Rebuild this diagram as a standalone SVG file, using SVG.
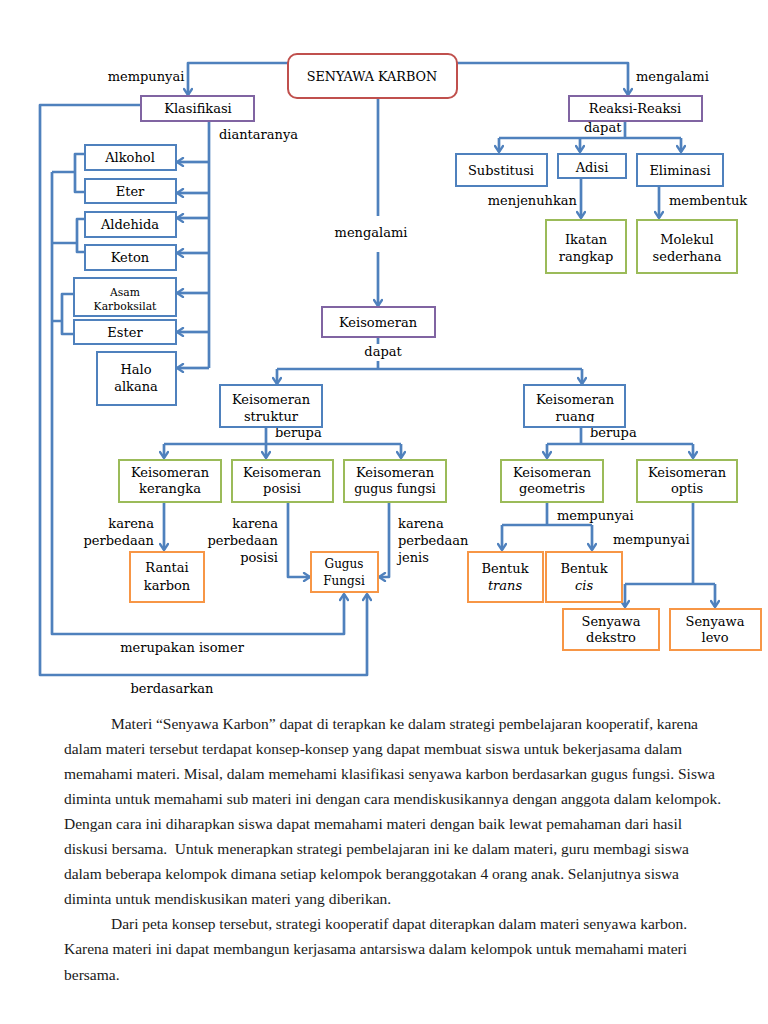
<svg xmlns="http://www.w3.org/2000/svg" width="768" height="1024" viewBox="0 0 768 1024">
<style>
.bx{fill:#fff;stroke-width:2}
.blue{stroke:#4F81BD}.red{stroke:#C0504D}.pur{stroke:#8064A2}.grn{stroke:#9BBB59}.org{stroke:#F79646}
.t{font-family:"DejaVu Serif","Liberation Serif",serif;font-size:13px;fill:#000;text-anchor:middle}
.l{font-family:"DejaVu Serif","Liberation Serif",serif;font-size:13px;fill:#000}
.s{font-size:10.8px}
.c{fill:none;stroke:#4F81BD;stroke-width:2.7;stroke-linejoin:round}
.a{marker-end:url(#ah)}
.p{font-family:"Liberation Serif","Times New Roman",serif;font-size:15.5px;fill:#1a1a1a}
</style>
<defs>
<marker id="ah" viewBox="0 0 10 10" refX="8" refY="5" markerWidth="10" markerHeight="10" markerUnits="userSpaceOnUse" orient="auto">
<path d="M2,1 L8,5 L2,9" fill="none" stroke="#4F81BD" stroke-width="2.3" stroke-linecap="round" stroke-linejoin="round"/>
</marker>
<clipPath id="cr"><rect x="525" y="386" width="99" height="36"/></clipPath>
</defs>
<rect width="768" height="1024" fill="#fff"/>

<g id="connectors">
<path class="c a" d="M288,63 H188 V95"/>
<path class="c a" d="M457,63 H628 V95"/>
<path class="c" d="M378,98 V216"/>
<path class="c a" d="M378,252 V306"/>
<path class="c" d="M625,121 V138 M499,138 H681"/>
<path class="c a" d="M499,138 V152"/>
<path class="c a" d="M580,138 V152"/>
<path class="c a" d="M681,138 V152"/>
<path class="c a" d="M581,178 V218"/>
<path class="c a" d="M659,186 V218"/>
<path class="c" d="M209,121 V368"/>
<path class="c a" d="M209,162 H177"/>
<path class="c a" d="M209,193 H177"/>
<path class="c a" d="M209,218 H177"/>
<path class="c a" d="M209,253 H177"/>
<path class="c a" d="M209,293 H177"/>
<path class="c a" d="M209,332 H177"/>
<path class="c a" d="M209,368 H177"/>
<path class="c" d="M85,154 H75 V192 H85 M52,172 H75"/>
<path class="c" d="M85,219 H77 V252 H85 M52,243 H77"/>
<path class="c" d="M74,294 H62 V334 H74 M52,321 H62"/>
<path class="c a" d="M52,172 V634 H344 V594"/>
<path class="c a" d="M141,105 H40 V675 H367 V594"/>
<path class="c" d="M378,337 V344 M378,361 V369 M277,369 H582"/>
<path class="c a" d="M277,369 V384"/>
<path class="c a" d="M582,369 V384"/>
<path class="c" d="M266,427 V444 M164,444 H401"/>
<path class="c a" d="M164,444 V458"/>
<path class="c a" d="M266,444 V458"/>
<path class="c a" d="M401,444 V458"/>
<path class="c a" d="M164,502 V550"/>
<path class="c a" d="M288,502 V577 H310"/>
<path class="c a" d="M389,502 V577 H379"/>
<path class="c" d="M581,427 V444 M547,444 H693"/>
<path class="c a" d="M547,444 V458"/>
<path class="c a" d="M693,444 V458"/>
<path class="c" d="M547,502 V525 M502,525 H592"/>
<path class="c a" d="M502,525 V550"/>
<path class="c a" d="M592,525 V550"/>
<path class="c" d="M693,502 V584 M625,584 H715"/>
<path class="c a" d="M625,584 V607"/>
<path class="c a" d="M715,584 V607"/>
</g>

<g id="labels">
<text class="l" x="146" y="81" text-anchor="middle">mempunyai</text>
<text class="l" x="636" y="81">mengalami</text>
<text class="l" x="219" y="139">diantaranya</text>
<text class="l" x="584" y="132">dapat</text>
<text class="l" x="577" y="205" text-anchor="end">menjenuhkan</text>
<text class="l" x="669" y="205">membentuk</text>
<text class="l" x="371" y="237" text-anchor="middle">mengalami</text>
<text class="l" x="383" y="356" text-anchor="middle">dapat</text>
<text class="l" x="275" y="437">berupa</text>
<text class="l" x="590" y="437">berupa</text>
<text class="l" x="154" y="528" text-anchor="end">karena</text>
<text class="l" x="154" y="545" text-anchor="end">perbedaan</text>
<text class="l" x="278" y="528" text-anchor="end">karena</text>
<text class="l" x="278" y="545" text-anchor="end">perbedaan</text>
<text class="l" x="278" y="562" text-anchor="end">posisi</text>
<text class="l" x="398" y="528">karena</text>
<text class="l" x="398" y="545">perbedaan</text>
<text class="l" x="398" y="562">jenis</text>
<text class="l" x="557" y="520">mempunyai</text>
<text class="l" x="613" y="544">mempunyai</text>
<text class="l" x="182" y="652" text-anchor="middle">merupakan isomer</text>
<text class="l" x="172" y="693" text-anchor="middle">berdasarkan</text>
</g>

<g id="senyawa-karbon"><rect class="bx red" x="288" y="54" width="169" height="44" rx="9" stroke-width="2.5"/><text class="t" x="372" y="81" style="font-size:12.8px">SENYAWA KARBON</text></g>
<g id="klasifikasi"><rect class="bx pur" x="141" y="96" width="113" height="25"/><text class="t" x="198" y="113">Klasifikasi</text></g>
<g id="reaksi"><rect class="bx pur" x="569" y="96" width="133" height="25"/><text class="t" x="635" y="113">Reaksi-Reaksi</text></g>
<g id="substitusi"><rect class="bx blue" x="456" y="154" width="91" height="32"/><text class="t" x="501" y="175">Substitusi</text></g>
<g id="adisi"><rect class="bx blue" x="558" y="154" width="68" height="24"/><text class="t" x="592" y="172">Adisi</text></g>
<g id="eliminasi"><rect class="bx blue" x="637" y="154" width="86" height="32"/><text class="t" x="680" y="175">Eliminasi</text></g>
<g id="ikatan"><rect class="bx grn" x="546" y="220" width="80" height="53"/><text class="t" x="586" y="244">Ikatan</text><text class="t" x="586" y="261">rangkap</text></g>
<g id="molekul"><rect class="bx grn" x="637" y="220" width="100" height="53"/><text class="t" x="687" y="244">Molekul</text><text class="t" x="687" y="261">sederhana</text></g>
<g id="alkohol"><rect class="bx blue" x="85" y="145" width="91" height="25"/><text class="t" x="130" y="162">Alkohol</text></g>
<g id="eter"><rect class="bx blue" x="85" y="179" width="91" height="24"/><text class="t" x="130" y="195.5">Eter</text></g>
<g id="aldehida"><rect class="bx blue" x="85" y="212" width="91" height="25"/><text class="t" x="130" y="229">Aldehida</text></g>
<g id="keton"><rect class="bx blue" x="85" y="245" width="91" height="25"/><text class="t" x="130" y="262">Keton</text></g>
<g id="asam"><rect class="bx blue" x="74" y="278" width="102" height="38"/><text class="t s" x="125" y="296">Asam</text><text class="t s" x="125" y="310">Karboksilat</text></g>
<g id="ester"><rect class="bx blue" x="74" y="320" width="102" height="24"/><text class="t" x="125" y="336.5">Ester</text></g>
<g id="haloalkana"><rect class="bx blue" x="97" y="352" width="79" height="53"/><text class="t" x="136" y="374">Halo</text><text class="t" x="136" y="391">alkana</text></g>
<g id="keisomeran"><rect class="bx pur" x="322" y="307" width="113" height="30"/><text class="t" x="378" y="326.5">Keisomeran</text></g>
<g id="k-struktur"><rect class="bx blue" x="220" y="385" width="102" height="42"/><text class="t" x="271" y="404">Keisomeran</text><text class="t" x="271" y="421">struktur</text></g>
<g id="k-ruang"><rect class="bx blue" x="524" y="385" width="101" height="42"/><g clip-path="url(#cr)"><text class="t" x="575" y="404">Keisomeran</text><text class="t" x="575" y="421">ruang</text></g></g>
<g id="k-kerangka"><rect class="bx grn" x="119" y="460" width="102" height="42"/><text class="t" x="170" y="477">Keisomeran</text><text class="t" x="170" y="493">kerangka</text></g>
<g id="k-posisi"><rect class="bx grn" x="232" y="460" width="101" height="42"/><text class="t" x="282" y="477">Keisomeran</text><text class="t" x="282" y="493">posisi</text></g>
<g id="k-gugus"><rect class="bx grn" x="344" y="460" width="102" height="42"/><text class="t" x="395" y="477">Keisomeran</text><text class="t" x="395" y="493" style="font-size:12.5px">gugus fungsi</text></g>
<g id="rantai"><rect class="bx org" x="130" y="552" width="74" height="50"/><text class="t" x="167" y="572">Rantai</text><text class="t" x="167" y="590">karbon</text></g>
<g id="gugus-fungsi"><rect class="bx org" x="311" y="552" width="67" height="40"/><text class="t" x="344" y="568" style="font-size:12px">Gugus</text><text class="t" x="344" y="585" style="font-size:12px">Fungsi</text></g>
<g id="k-geometris"><rect class="bx grn" x="501" y="460" width="102" height="42"/><text class="t" x="552" y="477">Keisomeran</text><text class="t" x="552" y="493">geometris</text></g>
<g id="k-optis"><rect class="bx grn" x="637" y="460" width="100" height="42"/><text class="t" x="687" y="477">Keisomeran</text><text class="t" x="687" y="493">optis</text></g>
<g id="trans"><rect class="bx org" x="468" y="552" width="75" height="50"/><text class="t" x="505" y="573">Bentuk</text><text class="t" x="505" y="590" font-style="italic">trans</text></g>
<g id="cis"><rect class="bx org" x="546" y="552" width="76" height="50"/><text class="t" x="584" y="573">Bentuk</text><text class="t" x="584" y="590" font-style="italic">cis</text></g>
<g id="dekstro"><rect class="bx org" x="563" y="609" width="96" height="41"/><text class="t" x="611" y="626">Senyawa</text><text class="t" x="611" y="642">dekstro</text></g>
<g id="levo"><rect class="bx org" x="670" y="609" width="91" height="41"/><text class="t" x="715" y="626">Senyawa</text><text class="t" x="715" y="642">levo</text></g>

<g id="paragraph">
<text class="p" x="111" y="728.5" textLength="587" lengthAdjust="spacing">Materi “Senyawa Karbon” dapat di terapkan ke dalam strategi pembelajaran kooperatif, karena</text>
<text class="p" x="64" y="753.6" textLength="618" lengthAdjust="spacing">dalam materi tersebut terdapat konsep-konsep yang dapat membuat siswa untuk bekerjasama dalam</text>
<text class="p" x="64" y="778.7" textLength="651" lengthAdjust="spacing">memahami materi. Misal, dalam memehami klasifikasi senyawa karbon berdasarkan gugus fungsi. Siswa</text>
<text class="p" x="64" y="803.8" textLength="657" lengthAdjust="spacing">diminta untuk memahami sub materi ini dengan cara mendiskusikannya dengan anggota dalam kelompok.</text>
<text class="p" x="64" y="828.9" textLength="618" lengthAdjust="spacing">Dengan cara ini diharapkan siswa dapat memahami materi dengan baik lewat pemahaman dari hasil</text>
<text class="p" x="64" y="854" textLength="625" lengthAdjust="spacing" xml:space="preserve">diskusi bersama.  Untuk menerapkan strategi pembelajaran ini ke dalam materi, guru membagi siswa</text>
<text class="p" x="64" y="879.1" textLength="615" lengthAdjust="spacing">dalam beberapa kelompok dimana setiap kelompok beranggotakan 4 orang anak. Selanjutnya siswa</text>
<text class="p" x="64" y="904.2">diminta untuk mendiskusikan materi yang diberikan.</text>
<text class="p" x="111" y="929.3" textLength="576" lengthAdjust="spacing">Dari peta konsep tersebut, strategi kooperatif dapat diterapkan dalam materi senyawa karbon.</text>
<text class="p" x="64" y="954.4" textLength="623" lengthAdjust="spacing">Karena materi ini dapat membangun kerjasama antarsiswa dalam kelompok untuk memahami materi</text>
<text class="p" x="64" y="979.5">bersama.</text>
</g>
</svg>
